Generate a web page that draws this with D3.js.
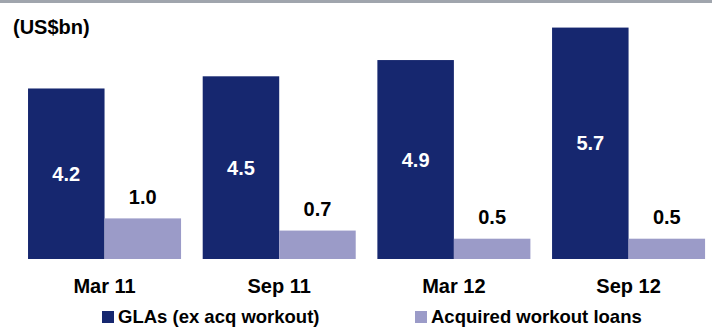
<!DOCTYPE html>
<html>
<head>
<meta charset="utf-8">
<script src="https://cdn.jsdelivr.net/npm/d3@7"></script>
<style>
  html, body { margin: 0; padding: 0; background: #fff; }
  svg { display: block; font-family: "Liberation Sans", Arial, sans-serif; font-weight: bold; }
</style>
</head>
<body>
<svg id="chart" width="712" height="327"></svg>
<script>
// Reporting periods
const periods = ["Mar 11", "Sep 11", "Mar 12", "Sep 12"];
// Gross loans and advances excluding acquired workout loans (US$bn)
const glas = [4.2, 4.5, 4.9, 5.7];
// Acquired workout loans (US$bn)
const workout = [1.0, 0.7, 0.5, 0.5];
const seriesNames = ["GLAs (ex acq workout)", "Acquired workout loans"];
const unitLabel = "(US$bn)";

const colors = ["#16276f", "#9b9bc8"];
const width = 712, height = 327;
const svg = d3.select("#chart");

// Thin grey rule along the top edge
svg.append("rect").attr("x", 0).attr("y", 0).attr("width", width).attr("height", 3)
  .attr("fill", "#a0a5ad");

const x0 = d3.scaleBand().domain(periods).range([17.2, 715.9])
  .paddingInner(0.124).paddingOuter(0.062);
const x1 = d3.scaleBand().domain([0, 1]).range([0, x0.bandwidth()]);
const y = d3.scaleLinear().domain([0, 6]).range([259, 259 - 6 * 40.6]);

const rows = periods.map((p, i) => ({ period: p, values: [glas[i], workout[i]] }));

const groups = svg.selectAll("g.period").data(rows).join("g")
  .attr("class", "period")
  .attr("transform", d => `translate(${x0(d.period)},0)`);

groups.selectAll("rect").data(d => d.values).join("rect")
  .attr("x", (v, j) => x1(j))
  .attr("y", v => y(v))
  .attr("width", x1.bandwidth())
  .attr("height", v => y(0) - y(v))
  .attr("fill", (v, j) => colors[j]);

// Value labels: inside the tall bar (white), above the short bar (black)
groups.selectAll("text.val").data(d => d.values).join("text")
  .attr("class", "val")
  .attr("x", (v, j) => x1(j) + x1.bandwidth() / 2)
  .attr("y", (v, j) => j === 0 ? (y(v) + y(0)) / 2 + 7 : y(v) - 14.5)
  .attr("text-anchor", "middle")
  .attr("font-size", 20)
  .attr("fill", (v, j) => j === 0 ? "#ffffff" : "#000000")
  .text(v => d3.format(".1f")(v));

// Category axis labels
const xAxis = d3.axisBottom(x0).tickSize(0).tickPadding(0);
const axisG = svg.append("g").attr("transform", "translate(0,259)").call(xAxis);
axisG.select(".domain").remove();
axisG.selectAll("text")
  .attr("y", 34).attr("dy", null)
  .attr("font-size", 20).attr("font-weight", "bold")
  .attr("font-family", "Liberation Sans, Arial, sans-serif")
  .attr("fill", "#000");

// Unit label
svg.append("text").attr("x", 13).attr("y", 34)
  .attr("font-size", 20).attr("fill", "#000").text(unitLabel);

// Legend
const legendX = [102, 415];
const legend = svg.selectAll("g.legend").data(seriesNames).join("g")
  .attr("class", "legend")
  .attr("transform", (d, i) => `translate(${legendX[i]},311)`);
legend.append("rect").attr("width", 12).attr("height", 12)
  .attr("fill", (d, i) => colors[i]);
legend.append("text").attr("x", 16).attr("y", 11.5)
  .attr("font-size", 18.5).attr("fill", "#000").text(d => d);
</script>
</body>
</html>
